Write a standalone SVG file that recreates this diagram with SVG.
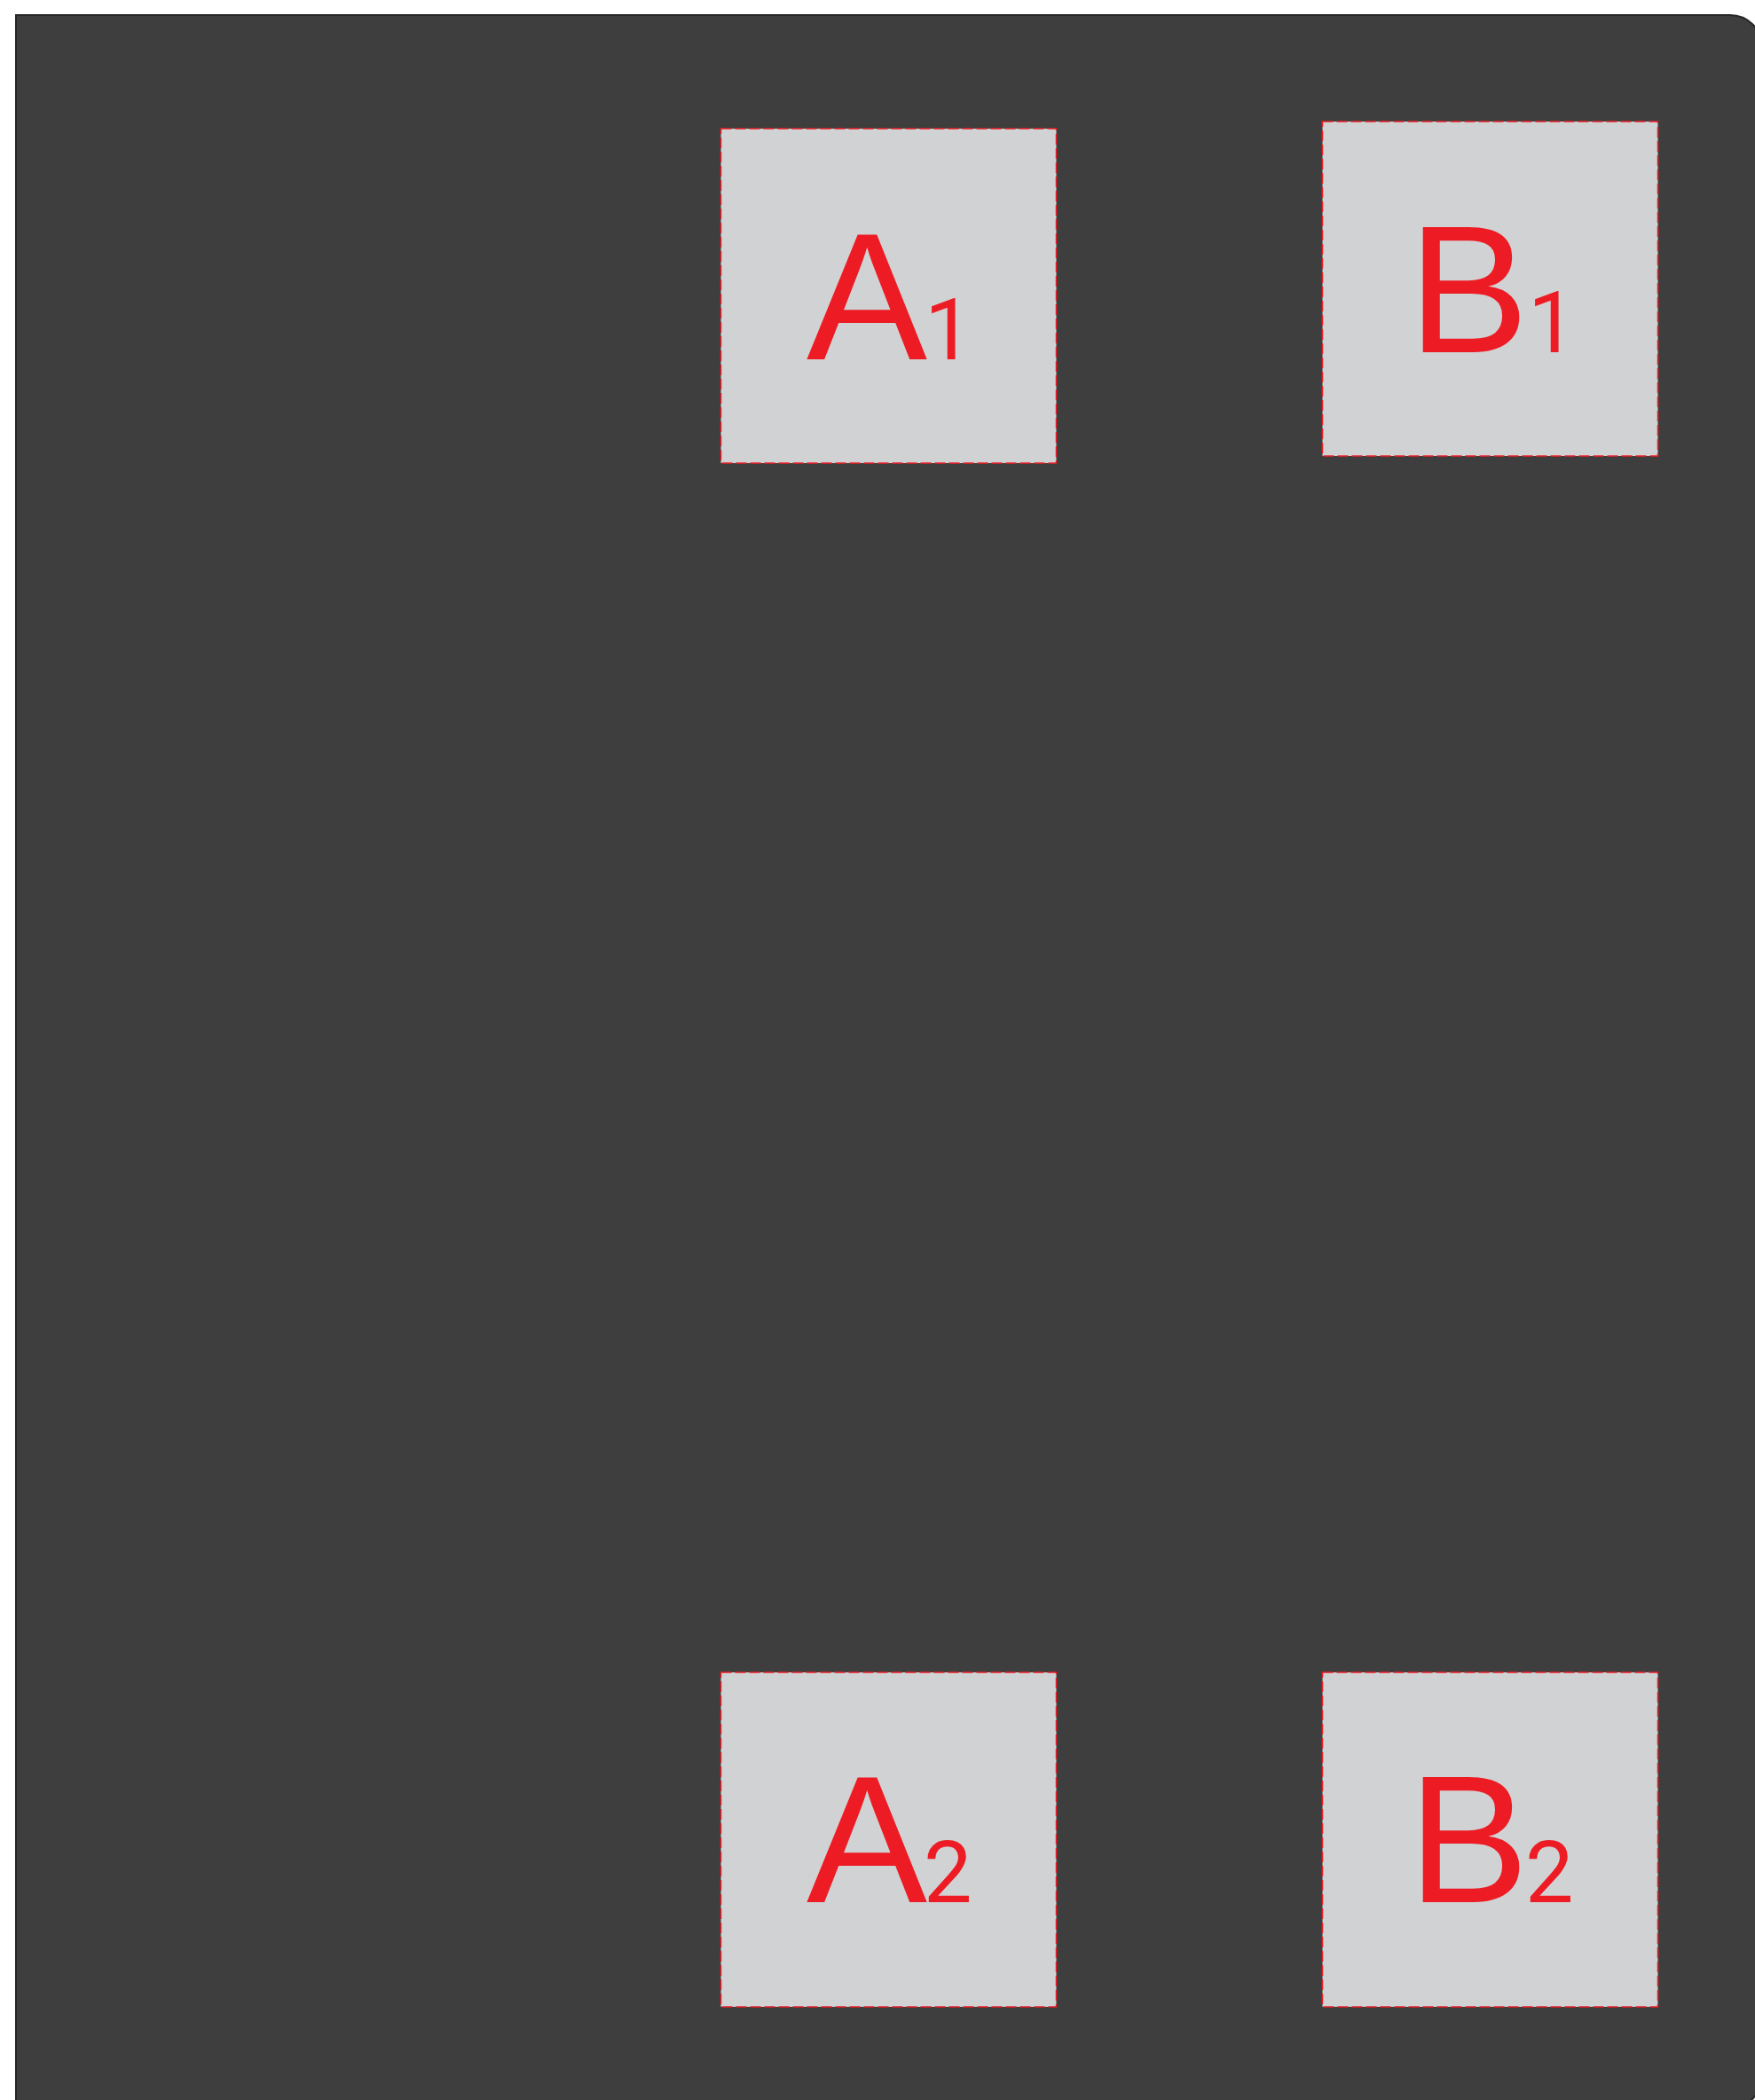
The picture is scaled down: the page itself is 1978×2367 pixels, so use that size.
<svg xmlns="http://www.w3.org/2000/svg" width="1978" height="2367" viewBox="0 0 1978 2367">
<style>
.bg{fill:#3e3e3e;stroke:#262626;stroke-width:2}
.box{fill:#d1d2d4;stroke:#ed1c24;stroke-width:1.5;stroke-dasharray:12 4}
.lbl{font-family:"Liberation Sans",Arial,sans-serif;fill:#ed1c24;font-size:204px}
.sub{font-family:Roboto,"Liberation Sans",Arial,sans-serif;font-size:97px}
</style>
<path class="bg" d="M18,17 H1950 A36,36 0 0 1 1986,53 V2340 A36,36 0 0 1 1950,2376 H18 Z"/>
<g id="A1">
<rect class="box" x="812.5" y="145" width="378" height="377"/>
<text class="lbl" x="909" y="405">A<tspan class="sub" x="1042">1</tspan></text>
</g>
<g id="B1">
<rect class="box" x="1490.5" y="137" width="378" height="377"/>
<text class="lbl" x="1587" y="397">B<tspan class="sub" x="1722">1</tspan></text>
</g>
<g id="A2">
<rect class="box" x="812.5" y="1885" width="378" height="377"/>
<text class="lbl" x="909" y="2144">A<tspan class="sub" x="1041">2</tspan></text>
</g>
<g id="B2">
<rect class="box" x="1490.5" y="1885" width="378" height="377"/>
<text class="lbl" x="1587" y="2144">B<tspan class="sub" x="1719">2</tspan></text>
</g>
<g id="connectors"/>
</svg>
